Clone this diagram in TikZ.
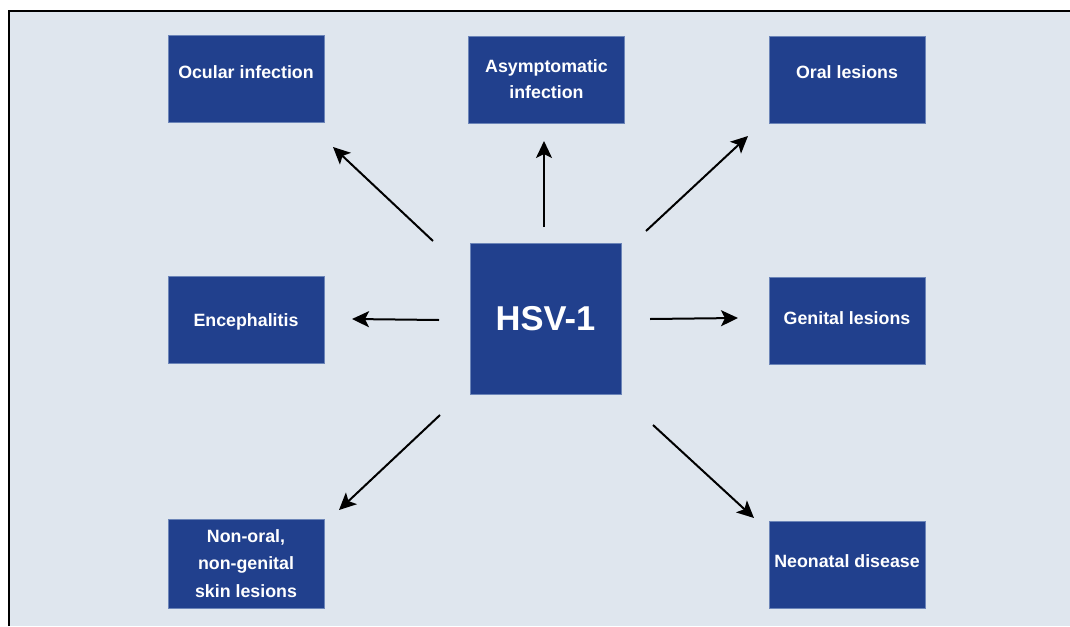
\documentclass[tikz,border=0pt]{standalone}
\usepackage{fontspec}
\setmainfont{Liberation Sans}
\usetikzlibrary{arrows.meta}
\definecolor{bgc}{HTML}{DFE6EE}
\definecolor{boxc}{HTML}{21408D}
\definecolor{boxedge}{HTML}{6C85B8}
\tikzset{
  box/.style={rectangle, fill=boxc, draw=boxedge, line width=0.8pt, text=white,
    font=\fontsize{17.8}{26}\selectfont\bfseries, align=center, inner sep=0pt,
    minimum width=156pt, minimum height=87pt},
  single/.style={text height=12.7pt, text depth=0pt},
  hub/.style={box, minimum width=151pt, minimum height=151pt,
    font=\fontsize{34.5}{40}\selectfont\bfseries},
  conn/.style={line width=2pt, draw=black, -{Stealth[length=17pt,width=16pt,inset=4pt]}}
}
\begin{document}
\begin{tikzpicture}[x=1pt,y=-1pt]
\useasboundingbox (0,0) rectangle (1070,626);
\fill[bgc] (9,11) rectangle (1070,626);
\draw[black, line width=1.3pt] (9,626) -- (9,11) -- (1070,11);

\node[box, single] (ocular) at (246,79) {\raisebox{7pt}{Ocular infection}};
\node[box] (asym) at (546.5,79.5) {\raisebox{1.5pt}{Asymptomatic}\\\raisebox{1.5pt}{infection}};
\node[box, single] (oral) at (847,79.5) {\raisebox{7.5pt}{Oral lesions}};
\node[box, single] (enceph) at (246,319.5) {\raisebox{-0.5pt}{Encephalitis}};
\node[hub] (hsv) at (545.5,318.5) {HSV-1};
\node[box, single] (genital) at (847,320.5) {\raisebox{2.5pt}{Genital lesions}};
\node[box, minimum height=89pt, font=\fontsize{17.8}{27.8}\selectfont\bfseries] (nonoral) at (246,563.5) {Non-oral,\\non-genital\\skin lesions};
\node[box, single] (neonatal) at (847,564.5) {\raisebox{3.5pt}{Neonatal disease}};

\coordinate (s1) at (433,241); \coordinate (e1) at (333,147);
\coordinate (s2) at (544,227); \coordinate (e2) at (544,141);
\coordinate (s3) at (646,231); \coordinate (e3) at (748,136);
\coordinate (s4) at (439,320); \coordinate (e4) at (352,319);
\coordinate (s5) at (650,319); \coordinate (e5) at (738,318);
\coordinate (s6) at (440,415); \coordinate (e6) at (339,510);
\coordinate (s7) at (653,425); \coordinate (e7) at (754,518);

\draw[conn] (s1) -- (e1);
\draw[conn] (s2) -- (e2);
\draw[conn] (s3) -- (e3);
\draw[conn] (s4) -- (e4);
\draw[conn] (s5) -- (e5);
\draw[conn] (s6) -- (e6);
\draw[conn] (s7) -- (e7);
\end{tikzpicture}
\end{document}
